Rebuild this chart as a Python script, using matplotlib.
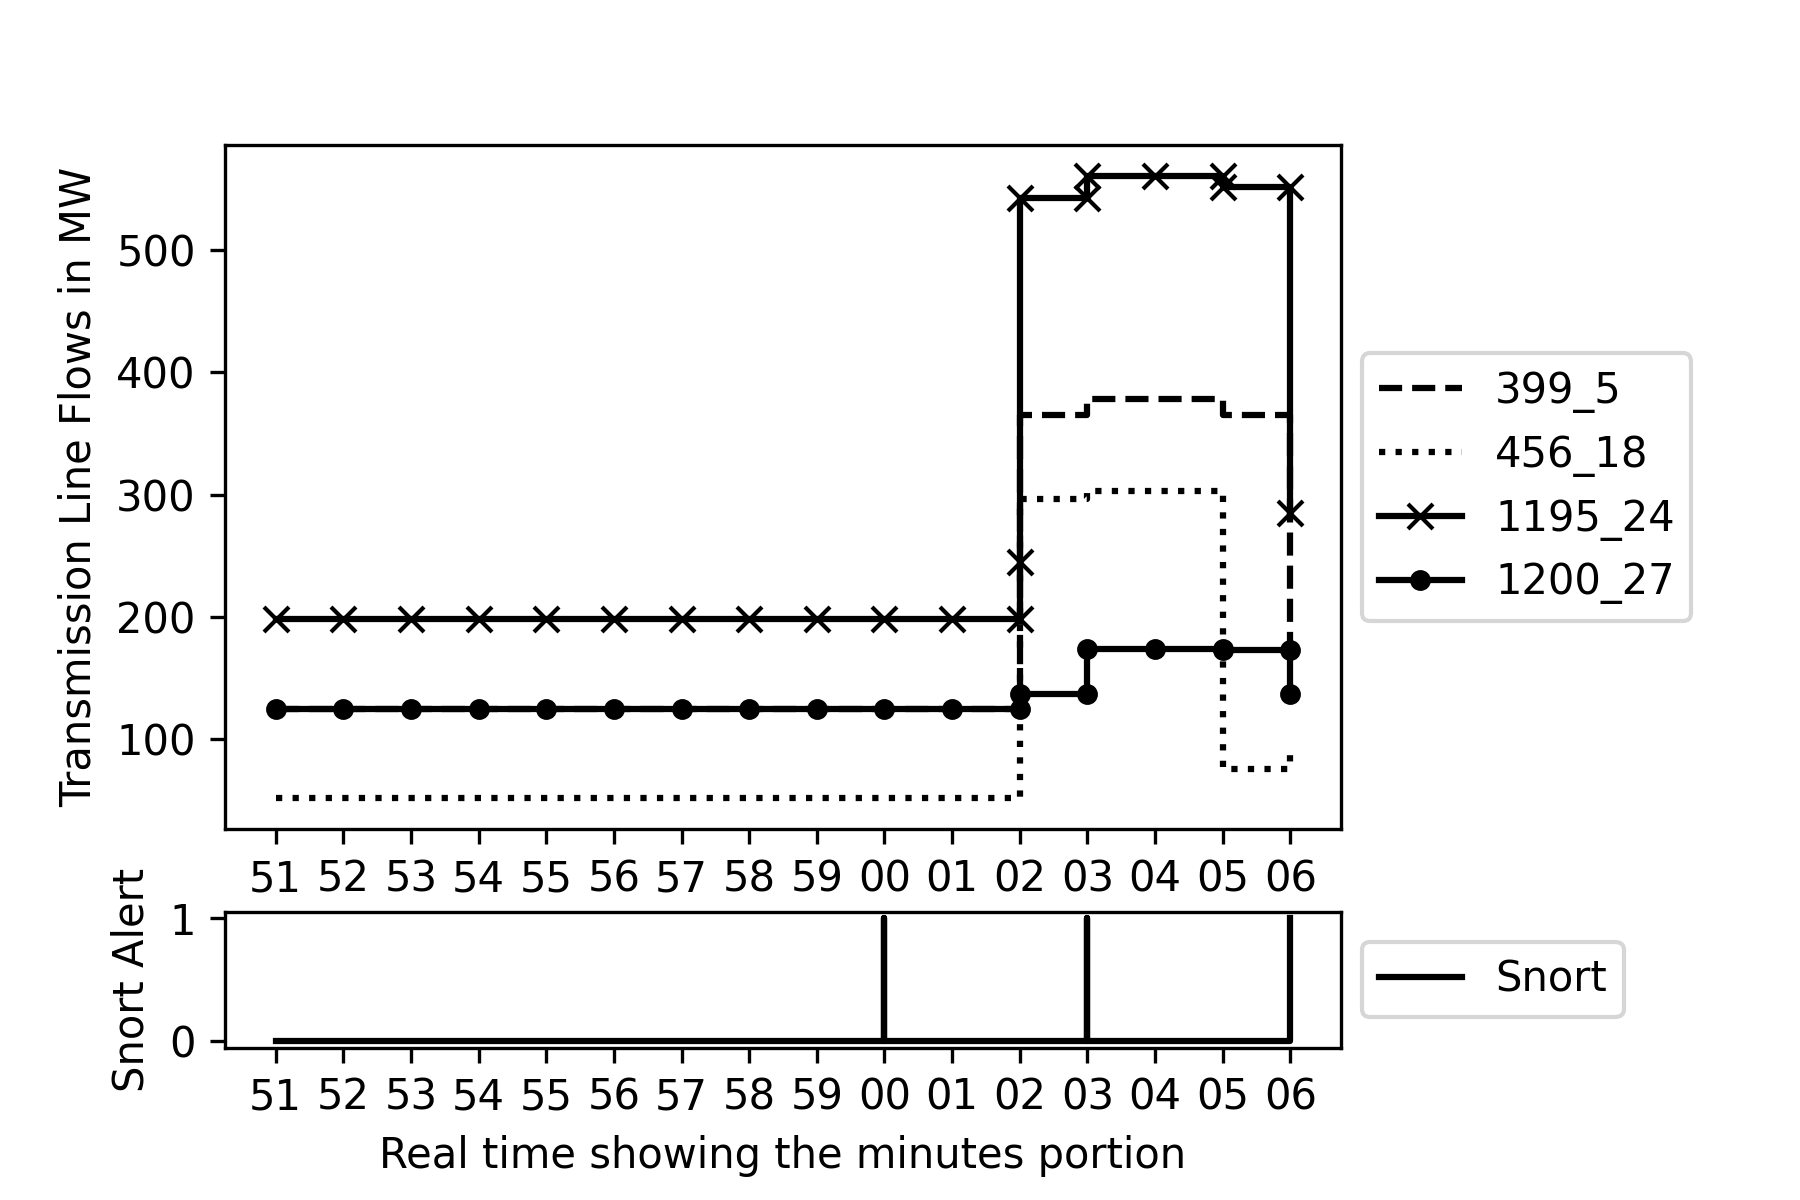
import numpy as np
import matplotlib.pyplot as plt

# minute labels on the x axis
minutes = ['51', '52', '53', '54', '55', '56', '57', '58', '59',
           '00', '01', '02', '03', '04', '05', '06']

# line flows (MW); x is the index into minutes, repeated where the value jumps
x_399 = [0, 1, 2, 3, 4, 5, 6, 7, 8, 9, 10, 11, 11, 12, 12, 13, 14, 14, 15, 15]
y_399 = [125, 125, 125, 125, 125, 125, 125, 125, 125, 125, 125, 125,
         365, 365, 378, 378, 378, 365, 365, 173]

x_456 = [0, 1, 2, 3, 4, 5, 6, 7, 8, 9, 10, 11, 11, 12, 12, 13, 14, 14, 15, 15]
y_456 = [52, 52, 52, 52, 52, 52, 52, 52, 52, 52, 52, 52,
         296, 296, 303, 303, 303, 76, 76, 95]

x_1195 = [0, 1, 2, 3, 4, 5, 6, 7, 8, 9, 10, 11, 11, 11, 12, 12, 13, 14, 14, 15, 15]
y_1195 = [198, 198, 198, 198, 198, 198, 198, 198, 198, 198, 198, 198,
          245, 542, 542, 560, 560, 560, 551, 551, 285]

x_1200 = [0, 1, 2, 3, 4, 5, 6, 7, 8, 9, 10, 11, 11, 12, 12, 13, 14, 14, 15, 15]
y_1200 = [125, 125, 125, 125, 125, 125, 125, 125, 125, 125, 125, 125,
          137, 137, 174, 174, 174, 173, 173, 137]

# snort alerts
x_snort = [0, 1, 2, 3, 4, 5, 6, 7, 8, 9, 9, 9, 10, 11, 12, 12, 12, 13, 14, 15, 15]
y_snort = [0, 0, 0, 0, 0, 0, 0, 0, 0, 0, 1, 0, 0, 0, 0, 1, 0, 0, 0, 0, 1]

fig = plt.figure(figsize=(6, 4), dpi=300)
ax1 = fig.add_axes([0.125, 0.309, 0.620, 0.570])
ax2 = fig.add_axes([0.125, 0.127, 0.620, 0.113])

ax1.plot(x_399, y_399, 'k--', label='399_5')
ax1.plot(x_456, y_456, 'k:', label='456_18')
ax1.plot(x_1195, y_1195, 'k-', marker='x', label='1195_24')
ax1.plot(x_1200, y_1200, 'k-', marker='.', markersize=8, label='1200_27')
ax1.set_xticks(range(len(minutes)))
ax1.set_xticklabels(minutes)
ax1.set_ylabel('Transmission Line Flows in MW')
ax1.legend(loc='center left', bbox_to_anchor=(1, 0.5))

ax2.plot(x_snort, y_snort, 'k-', label='Snort')
ax2.set_xticks(range(len(minutes)))
ax2.set_xticklabels(minutes)
ax2.set_yticks([0, 1])
ax2.set_ylabel('Snort Alert')
ax2.set_xlabel('Real time showing the minutes portion')
ax2.legend(loc='center left', bbox_to_anchor=(1, 0.5))

fig.savefig('out.png')
